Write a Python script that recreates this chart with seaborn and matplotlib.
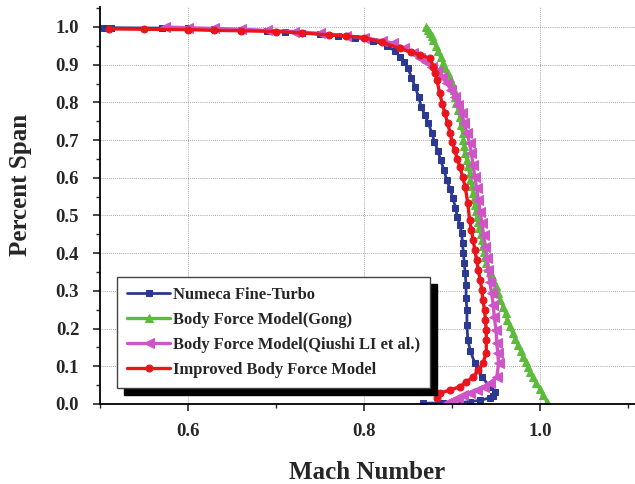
import matplotlib
matplotlib.use("Agg")
import matplotlib.pyplot as plt
import seaborn as sns
import pandas as pd
from matplotlib.ticker import MultipleLocator

# ---------------- data ----------------
numeca_mach = [0.505, 0.512, 0.571, 0.60, 0.63, 0.66, 0.69, 0.71, 0.73, 0.75, 0.77, 0.79, 0.81,
               0.826, 0.835, 0.841, 0.846, 0.850, 0.854, 0.858, 0.862, 0.865, 0.869, 0.873, 0.877,
               0.880, 0.884, 0.887, 0.891, 0.894, 0.898, 0.901, 0.904, 0.906, 0.909, 0.911, 0.912,
               0.913, 0.914, 0.915, 0.916, 0.916, 0.917, 0.917, 0.918, 0.921, 0.926, 0.930, 0.934,
               0.943, 0.949, 0.947, 0.943, 0.932, 0.920, 0.905, 0.890, 0.867]
numeca_span = [0.998, 0.998, 0.997, 0.996, 0.994, 0.992, 0.990, 0.988, 0.985, 0.981, 0.977, 0.972, 0.964,
               0.950, 0.937, 0.921, 0.906, 0.891, 0.866, 0.842, 0.815, 0.789, 0.767, 0.745, 0.720,
               0.696, 0.672, 0.647, 0.620, 0.594, 0.570, 0.546, 0.521, 0.497, 0.475, 0.453, 0.427,
               0.400, 0.373, 0.347, 0.315, 0.282, 0.249, 0.210, 0.170, 0.140, 0.108, 0.090, 0.072,
               0.046, 0.033, 0.022, 0.016, 0.010, 0.006, 0.004, 0.003, 0.002]

gong_mach = [0.871, 0.873, 0.875, 0.877, 0.879, 0.882, 0.884, 0.887, 0.890, 0.892, 0.895, 0.898,
             0.900, 0.902, 0.903, 0.905, 0.907, 0.909, 0.910, 0.912, 0.913, 0.914, 0.915, 0.917,
             0.918, 0.920, 0.921, 0.923, 0.924, 0.925, 0.926, 0.927, 0.928, 0.930, 0.931, 0.933,
             0.934, 0.935, 0.936, 0.938, 0.939, 0.941, 0.943, 0.945, 0.947, 0.950, 0.952, 0.955,
             0.958, 0.961, 0.963, 0.966, 0.969, 0.972, 0.975, 0.978, 0.981, 0.984, 0.986, 0.989,
             0.992, 0.996, 1.000, 1.004, 1.008]
gong_span = [1.000, 0.993, 0.985, 0.975, 0.965, 0.950, 0.935, 0.920, 0.904, 0.891, 0.878, 0.865,
             0.851, 0.833, 0.815, 0.798, 0.780, 0.760, 0.740, 0.720, 0.700, 0.683, 0.665, 0.648,
             0.630, 0.613, 0.595, 0.578, 0.560, 0.544, 0.528, 0.513, 0.497, 0.482, 0.466, 0.451,
             0.435, 0.420, 0.404, 0.389, 0.373, 0.362, 0.350, 0.340, 0.329, 0.312, 0.294, 0.276,
             0.258, 0.241, 0.223, 0.206, 0.188, 0.173, 0.157, 0.141, 0.125, 0.112, 0.098, 0.085,
             0.072, 0.056, 0.040, 0.023, 0.006]

li_mach = [0.574, 0.60, 0.63, 0.66, 0.69, 0.72, 0.75, 0.78, 0.80, 0.82, 0.833, 0.845, 0.856, 0.864,
           0.871, 0.877, 0.883, 0.889, 0.894, 0.899, 0.903, 0.907, 0.911, 0.914, 0.917, 0.920,
           0.922, 0.924, 0.926, 0.928, 0.930, 0.932, 0.934, 0.936, 0.938, 0.940, 0.941, 0.943,
           0.945, 0.947, 0.948, 0.950, 0.951, 0.952, 0.953, 0.951, 0.943, 0.936, 0.928, 0.920,
           0.913, 0.907, 0.901, 0.894]
li_span = [1.000, 0.998, 0.996, 0.994, 0.991, 0.988, 0.983, 0.977, 0.971, 0.964, 0.957, 0.944, 0.930,
           0.919, 0.908, 0.895, 0.882, 0.867, 0.851, 0.833, 0.815, 0.793, 0.771, 0.745, 0.718,
           0.692, 0.665, 0.634, 0.603, 0.572, 0.541, 0.510, 0.480, 0.448, 0.417, 0.386, 0.355,
           0.324, 0.294, 0.263, 0.232, 0.197, 0.161, 0.135, 0.108, 0.072, 0.055, 0.046, 0.037,
           0.030, 0.024, 0.017, 0.011, 0.003]

improved_mach = [0.51, 0.55, 0.60, 0.63, 0.66, 0.70, 0.73, 0.76, 0.78, 0.80, 0.82, 0.841, 0.853,
                 0.864, 0.875, 0.879, 0.881, 0.883, 0.886, 0.889, 0.892, 0.895, 0.898, 0.900,
                 0.903, 0.906, 0.909, 0.912, 0.915, 0.918, 0.920, 0.922, 0.924, 0.926, 0.928,
                 0.930, 0.932, 0.934, 0.935, 0.937, 0.938, 0.939, 0.939, 0.939, 0.935, 0.930,
                 0.924, 0.916, 0.909, 0.898, 0.886, 0.883]
improved_span = [0.995, 0.994, 0.993, 0.991, 0.990, 0.988, 0.984, 0.979, 0.976, 0.972, 0.960, 0.943,
                 0.934, 0.926, 0.917, 0.895, 0.877, 0.859, 0.824, 0.797, 0.771, 0.745, 0.718, 0.696,
                 0.674, 0.651, 0.629, 0.603, 0.576, 0.533, 0.488, 0.462, 0.435, 0.408, 0.382,
                 0.355, 0.329, 0.302, 0.276, 0.250, 0.223, 0.196, 0.170, 0.135, 0.108, 0.090,
                 0.072, 0.058, 0.046, 0.037, 0.029, 0.016]

labels = ["Numeca Fine-Turbo", "Body Force Model(Gong)",
          "Body Force Model(Qiushi LI et al.)", "Improved Body Force Model"]

# ---------------- styling ----------------
sns.set_style("ticks")
plt.rcParams["font.family"] = ["Liberation Serif", "DejaVu Serif"]
plt.rcParams["font.weight"] = "bold"

fig = plt.figure(figsize=(6.35, 4.84), dpi=100)
ax = fig.add_axes([100 / 635, 1 - 404 / 484, 535 / 635, 397 / 484])

series = [
    (numeca_mach, numeca_span, labels[0], "#2b3990", "s", 4.0, 2.0),
    (gong_mach, gong_span, labels[1], "#5dbb3c", "^", 6.0, 2.4),
    (li_mach, li_span, labels[2], "#cf55c6", "<", 6.5, 2.4),
    (improved_mach, improved_span, labels[3], "#e8151d", "o", 5.0, 2.4),
]

for mach, span, lab, col, mk, ms, lw in series:
    df = pd.DataFrame({"Mach": mach, "Span": span})
    sns.lineplot(data=df, x="Mach", y="Span", sort=False, estimator=None, ax=ax,
                 color=col, linewidth=lw, marker=mk, markersize=ms,
                 markeredgecolor=col, markerfacecolor=col, label=lab)

ax.set_xlim(0.5, 1.108)
ax.set_ylim(0.0, 1.053)
ax.xaxis.set_major_locator(MultipleLocator(0.2))
ax.xaxis.set_minor_locator(MultipleLocator(0.1))
ax.yaxis.set_major_locator(MultipleLocator(0.1))
ax.yaxis.set_minor_locator(MultipleLocator(0.05))
ax.grid(True, which="major", color="#8a8a8a", linestyle=(0, (1, 1.5)), linewidth=0.6)
ax.tick_params(which="major", direction="out", length=5, width=1.2, labelsize=13.5)
ax.tick_params(axis="y", which="major", pad=10)
ax.tick_params(axis="x", which="major", pad=9)
ax.tick_params(which="minor", direction="out", length=3, width=1.0)
ax.set_xticklabels([f"{t:.1f}" for t in ax.get_xticks()])
ax.set_yticklabels([f"{t:.1f}" for t in ax.get_yticks()])
for lbl in ax.get_xticklabels() + ax.get_yticklabels():
    lbl.set_fontweight("bold")

sns.despine(ax=ax)
for s in ("left", "bottom"):
    ax.spines[s].set_linewidth(1.3)
    ax.spines[s].set_color("black")

ax.set_xlabel("Mach Number", fontsize=18, fontweight="bold", labelpad=15)
ax.set_ylabel("Percent Span", fontsize=18, fontweight="bold")
ax.yaxis.set_label_coords(-0.128, 0.552)

leg = ax.legend(loc="lower left", bbox_to_anchor=(0.032, 0.04), fontsize=11.9,
                frameon=True, fancybox=False, edgecolor="#444444",
                shadow={"color": "black", "alpha": 1.0, "ox": 5, "oy": -5},
                handlelength=2.6, handletextpad=0.2, borderpad=0.6, labelspacing=0.55,
                borderaxespad=0)
leg.get_frame().set_linewidth(1.0)
for t in leg.get_texts():
    t.set_fontweight("bold")

fig.savefig("out.png", dpi=100)
